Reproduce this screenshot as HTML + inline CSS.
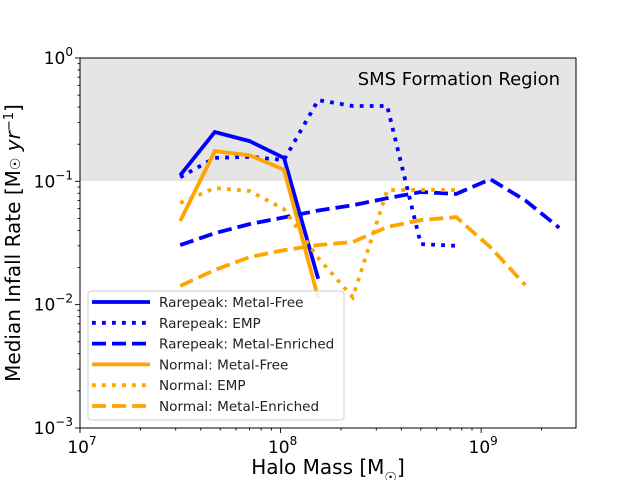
<!DOCTYPE html>
<html><head><meta charset="utf-8"><style>
html,body{margin:0;padding:0;background:#fff;}
svg{display:block;font-family:"DejaVu Sans","Liberation Sans",sans-serif;}
</style></head><body>
<svg id="chart" width="640" height="480">
  <rect x="80" y="58" width="496" height="123" fill="#e5e5e5"/>
  <text x="560" y="85" font-size="18" text-anchor="end" fill="#000">SMS Formation Region</text>
  <g id="series"></g>
  <g id="axes"></g>
  <rect x="80" y="58" width="496" height="370" fill="none" stroke="#000" stroke-width="1"/>
  <g>
    <rect x="88" y="291" width="256" height="129" rx="3" fill="#fff" fill-opacity="0.85" stroke="#ccc"/>
    <g id="legend-entries"></g>
  </g>
  <text x="328" y="474" font-size="20" text-anchor="middle">Halo Mass [M<tspan baseline-shift="sub" font-size="14">☉</tspan>]</text>
  <text transform="translate(20,243) rotate(-90)" font-size="20" text-anchor="middle">Median Infall Rate [M<tspan font-size="14">☉</tspan> <tspan font-style="italic">yr</tspan><tspan baseline-shift="super" font-size="13">−1</tspan>]</text>
</svg>
<script>
const masses = [3.16e7,4.7e7,7.0e7,1.04e8,1.54e8,2.29e8,3.4e8,5.0e8,7.5e8,1.11e9,1.66e9,2.45e9];
const rareMetalFree = [0.112,0.251,0.212,0.155,0.0162];
const rareEMP = [0.108,0.155,0.158,0.149,0.456,0.408,0.408,0.031,0.030];
const rareEnriched = [0.0304,0.038,0.045,0.051,0.058,0.064,0.073,0.082,0.079,0.104,0.070,0.042];
const normMetalFree = [0.0477,0.176,0.163,0.124,0.0113];
const normEMP = [0.0667,0.0883,0.0835,0.0596,0.0239,0.0115,0.085,0.085,0.085];
const normEnriched = [0.0142,0.0191,0.0243,0.0277,0.0304,0.0322,0.0426,0.0485,0.0513,0.0293,0.0144];
const seriesLabels = ["Rarepeak: Metal-Free","Rarepeak: EMP","Rarepeak: Metal-Enriched","Normal: Metal-Free","Normal: EMP","Normal: Metal-Enriched"];
const xTickExps = [7,8,9];
const yTickExps = [0,-1,-2,-3];

const NS="http://www.w3.org/2000/svg";
const X0=80,X1=576,Y0=58,Y1=428;
const xMinL=7,xMaxL=Math.log10(2.97e9);
function xs(m){return X0+(Math.log10(m)-xMinL)/(xMaxL-xMinL)*(X1-X0);}
function ys(v){return Y0+(0-Math.log10(v))/3*(Y1-Y0);}
const BLUE="#0000ff",ORANGE="#ffa500";
const styles=[[BLUE,""],[BLUE,"3.8,6.2"],[BLUE,"14,6"],[ORANGE,""],[ORANGE,"3.8,6.2"],[ORANGE,"14,6"]];
const data=[rareMetalFree,rareEMP,rareEnriched,normMetalFree,normEMP,normEnriched];
const names=["rarepeak-metal-free-line","rarepeak-emp-line","rarepeak-metal-enriched-line","normal-metal-free-line","normal-emp-line","normal-metal-enriched-line"];
const sg=document.getElementById('series');
data.forEach((arr,i)=>{
  const p=document.createElementNS(NS,'path');
  p.setAttribute('d',arr.map((v,j)=>(j?'L':'M')+xs(masses[j]).toFixed(1)+','+ys(v).toFixed(1)).join(''));
  p.setAttribute('fill','none');p.setAttribute('stroke',styles[i][0]);p.setAttribute('stroke-width','3.8');
  if(styles[i][1])p.setAttribute('stroke-dasharray',styles[i][1]);
  
  
  sg.appendChild(p);
});
const ax=document.getElementById('axes');
function line(x1,y1,x2,y2,nm){const l=document.createElementNS(NS,'line');l.setAttribute('x1',x1);l.setAttribute('y1',y1);l.setAttribute('x2',x2);l.setAttribute('y2',y2);l.setAttribute('stroke','#000');l.setAttribute('stroke-width','0.9');
  
  
  ax.appendChild(l);}
function label(x,y,exp,anchor,nm){const t=document.createElementNS(NS,'text');t.setAttribute('x',x);t.setAttribute('y',y);t.setAttribute('font-size','17');t.setAttribute('text-anchor',anchor);
  t.innerHTML='10<tspan dy="-8" font-size="12">'+(exp<0?'−'+(-exp):exp)+'</tspan>';
  
  
  ax.appendChild(t);}
xTickExps.forEach(e=>{const x=xs(Math.pow(10,e));line(x,Y1,x,Y1+5,'x-major-tick');label(x+2,Y1+25,e,'middle','x-tick-label');
  for(let k=2;k<10;k++){const xm=xs(k*Math.pow(10,e));if(xm<=X1)line(xm,Y1,xm,Y1+2.5,'x-minor-tick');}});
yTickExps.forEach(e=>{const y=ys(Math.pow(10,e));line(X0-5,y,X0,y,'y-major-tick');label(X0-7,y+6,e,'end','y-tick-label');
  if(e<0)for(let k=2;k<10;k++){line(X0-2.5,ys(k*Math.pow(10,e)),X0,ys(k*Math.pow(10,e)),'y-minor-tick');}});
const lg=document.getElementById('legend-entries');
seriesLabels.forEach((s,i)=>{
  const y=302+i*20.8;
  const l=document.createElementNS(NS,'line');l.setAttribute('x1',92);l.setAttribute('x2',150);l.setAttribute('y1',y);l.setAttribute('y2',y);
  l.setAttribute('stroke',styles[i][0]);l.setAttribute('stroke-width','3.8');if(styles[i][1])l.setAttribute('stroke-dasharray',styles[i][1]);
  
  
  lg.appendChild(l);
  const t=document.createElementNS(NS,'text');t.setAttribute('x',159);t.setAttribute('y',y+5);t.setAttribute('font-size','13.6');t.setAttribute('fill','#222');t.textContent=s;
  
  
  lg.appendChild(t);
});
</script>
</body></html>
